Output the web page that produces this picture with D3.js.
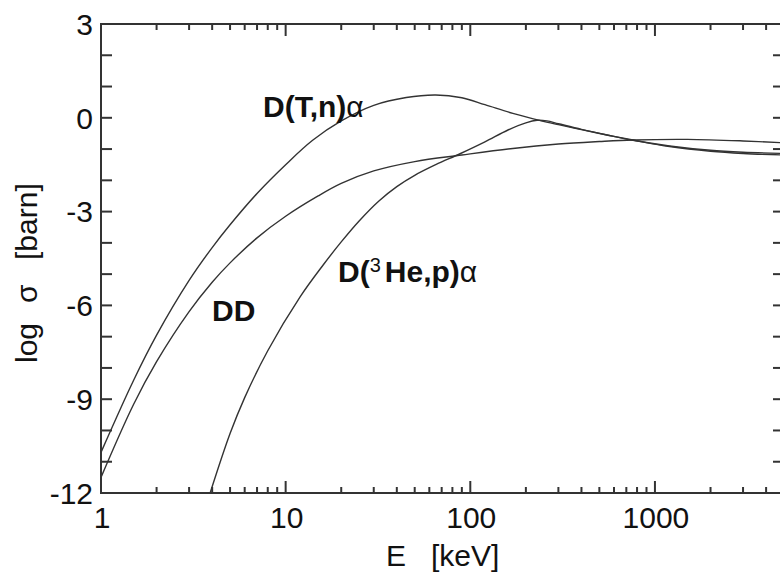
<!DOCTYPE html>
<html>
<head>
<meta charset="utf-8">
<script src="https://cdn.jsdelivr.net/npm/d3@7"></script>
<style>
  body { margin: 0; background: #fff; }
  svg { display: block; font-family: "Liberation Sans", Arial, sans-serif; }
  .lbl { font-size: 30px; fill: #111; }
</style>
</head>
<body>
<svg id="chart" width="780" height="572"></svg>
<script>
// cross sections, log10(sigma / barn) vs centre-of-mass energy E [keV]
var energyDT = [1, 1.5, 2, 3, 4, 5, 7, 10, 14, 20, 30, 45, 65, 90, 120, 170, 240, 300, 400, 550, 760, 1200, 2000, 3000, 5000]
var sigmaDT  = [-10.7, -8.4, -6.95, -5.2, -4.15, -3.42, -2.42, -1.5, -0.72, -0.1, 0.4, 0.65, 0.73, 0.64, 0.42, 0.14, -0.09, -0.22, -0.38, -0.55, -0.71, -0.92, -1.07, -1.14, -1.19]

var energyDD = [1, 1.5, 2, 3, 4, 5, 7, 10, 15, 20, 30, 50, 90, 170, 300, 500, 760, 1500, 3000, 5000]
var sigmaDD  = [-11.5, -9.17, -7.8, -6.2, -5.26, -4.64, -3.84, -3.15, -2.5, -2.1, -1.7, -1.4, -1.19, -0.98, -0.84, -0.76, -0.71, -0.69, -0.74, -0.8]

var energyDHe3 = [3.9, 5, 6, 8, 12, 16, 20, 25, 32, 40, 50, 65, 88, 120, 160, 200, 230, 260, 300, 400, 550, 760, 1200, 2000, 3000, 5000]
var sigmaDHe3  = [-12, -10.1, -8.95, -7.45, -5.72, -4.7, -3.97, -3.3, -2.66, -2.2, -1.84, -1.5, -1.15, -0.77, -0.39, -0.16, -0.08, -0.1, -0.19, -0.37, -0.55, -0.72, -0.9, -1.04, -1.1, -1.14]

var xMajor = [1, 10, 100, 1000]
var yTicks = d3.range(-12, 4, 1)
var yLabels = [-12, -9, -6, -3, 0, 3]

var svg = d3.select('#chart')
var m = {left: 101, top: 24, bottom: 493, right: 784}

var x = d3.scaleLog().domain([1, 5000]).range([m.left, m.right])
var y = d3.scaleLinear().domain([-12, 3]).range([m.bottom, m.top])

var xMinor = []
xMajor.forEach(function(d){ for (var k = 2; k < 10; k++) if (d*k < 5000) xMinor.push(d*k) })

var series = [
  d3.zip(energyDT, sigmaDT),
  d3.zip(energyDD, sigmaDD),
  d3.zip(energyDHe3, sigmaDHe3)
]

svg.append('clipPath').attr('id', 'clip')
  .append('rect').attr('x', m.left).attr('y', m.top).attr('width', m.right - m.left).attr('height', m.bottom - m.top)

var line = d3.line()
  .x(d => x(d[0]))
  .y(d => y(d[1]))
  .curve(d3.curveCatmullRom.alpha(0.5))

svg.append('g').attr('clip-path', 'url(#clip)')
  .selectAll('path').data(series).join('path')
  .attr('d', line)
  .attr('fill', 'none')
  .attr('stroke', '#333')
  .attr('stroke-width', 1.4)

// frame
svg.append('rect')
  .attr('x', m.left).attr('y', m.top).attr('width', m.right - m.left).attr('height', m.bottom - m.top)
  .attr('fill', 'none').attr('stroke', '#333').attr('stroke-width', 2)

var ticks = svg.append('g').attr('stroke', '#333').attr('stroke-width', 2)

// x ticks, inward, bottom and top
function xTick(d, len){
  ticks.append('line').attr('x1', x(d)).attr('x2', x(d)).attr('y1', m.bottom).attr('y2', m.bottom - len)
  ticks.append('line').attr('x1', x(d)).attr('x2', x(d)).attr('y1', m.top).attr('y2', m.top + len)
}
xMajor.forEach(d => xTick(d, 12))
xMinor.forEach(d => xTick(d, 6))

// y ticks, inward, left and right
yTicks.forEach(function(d){
  ticks.append('line').attr('x1', m.left).attr('x2', m.left + 11).attr('y1', y(d)).attr('y2', y(d))
  ticks.append('line').attr('x1', m.right).attr('x2', m.right - 11).attr('y1', y(d)).attr('y2', y(d))
})

svg.selectAll('text.xt').data(xMajor).join('text')
  .attr('class', 'lbl xt')
  .attr('x', d => x(d) + 1).attr('y', 528)
  .attr('text-anchor', 'middle')
  .text(d => d)

svg.selectAll('text.yt').data(yLabels).join('text')
  .attr('class', 'lbl yt')
  .attr('x', 93).attr('y', d => y(d)).attr('dy', '0.36em')
  .attr('text-anchor', 'end')
  .text(d => d)

// axis titles
svg.append('text').attr('class', 'lbl')
  .attr('x', 386).attr('y', 566)
  .style('white-space', 'pre')
  .text('E   [keV]')

var yTitle = [['log', 363], ['σ', 303], ['[barn]', 260]]
svg.selectAll('text.ytitle').data(yTitle).join('text')
  .attr('class', 'lbl ytitle')
  .attr('transform', d => 'translate(37,' + d[1] + ') rotate(-90)')
  .text(d => d[0])

// curve labels
var lab = svg.append('g').attr('class', 'lbl').style('font-weight', 'bold')

var t1 = lab.append('text').attr('x', 263).attr('y', 117)
t1.append('tspan').text('D(T,n)')
t1.append('tspan').style('font-weight', 'normal').text('α')

lab.append('text').attr('x', 212).attr('y', 321).text('DD')

var t3 = lab.append('text').attr('x', 338).attr('y', 282)
t3.append('tspan').text('D(')
t3.append('tspan').attr('dy', -10).style('font-size', '20px').style('font-weight', 'normal').text('3')
t3.append('tspan').attr('dy', 10).attr('dx', 4).text('He,p)')
t3.append('tspan').style('font-weight', 'normal').text('α')
</script>
</body>
</html>
